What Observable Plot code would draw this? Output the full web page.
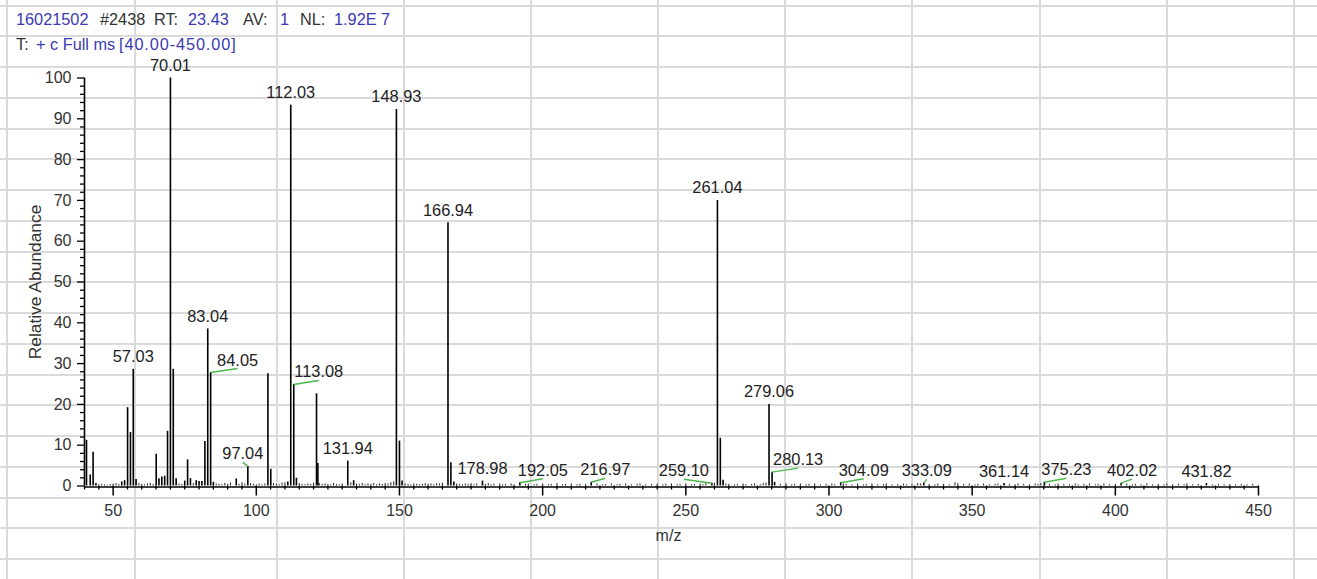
<!DOCTYPE html>
<html>
<head>
<meta charset="utf-8">
<script src="https://cdn.jsdelivr.net/npm/d3@7"></script>
<script src="https://cdn.jsdelivr.net/npm/@observablehq/plot@0.6"></script>
<style>
  html, body { margin: 0; padding: 0; background: #fff; }
  #page { position: relative; width: 1317px; height: 579px; overflow: hidden; background: #fff; }
  #grid { position: absolute; left: 0; top: 0; width: 1317px; height: 579px; }
  #grid div { position: absolute; background: #dadada; }
  #chart { position: absolute; left: 0; top: 0; }
  .h { position: absolute; font: 16.3px "Liberation Sans", Arial, sans-serif; color: #3a3ab4;
       white-space: pre; line-height: 25px; }
  .h.k { color: #333; }
  .h.w { letter-spacing: 0.9px; }
</style>
</head>
<body>
<div id="page">
  <div id="grid"></div>
  <div id="chart"></div>
  <span class="h" style="left:16px;top:7px">16021502</span>
  <span class="h k" style="left:100px;top:7px">#2438</span>
  <span class="h k" style="left:154px;top:7px">RT:</span>
  <span class="h" style="left:188px;top:7px">23.43</span>
  <span class="h k" style="left:243px;top:7px">AV:</span>
  <span class="h" style="left:280px;top:7px">1</span>
  <span class="h k" style="left:300px;top:7px">NL:</span>
  <span class="h" style="left:334px;top:7px">1.92E 7</span>
  <span class="h k" style="left:16px;top:32px">T:</span>
  <span class="h" style="left:36px;top:32px">+ c Full ms</span>
  <span class="h w" style="left:119px;top:32px">[40.00-450.00]</span>
</div>
<script>
// ---------------- data ----------------
// labelled peaks
const labelMz  = [70.01, 112.03, 148.93, 166.94, 261.04, 83.04, 57.03, 279.06, 84.05, 113.08, 131.94, 97.04,
                  178.98, 192.05, 216.97, 259.10, 280.13, 304.09, 333.09, 361.14, 375.23, 402.02, 431.82];
const labelInt = [100, 93.3, 92.3, 64.5, 70.0, 38.5, 28.6, 20.0, 27.8, 24.9, 6.1, 4.8,
                  1.2, 0.8, 0.9, 0.7, 3.4, 0.8, 0.7, 0.6, 0.9, 0.7, 0.6];
const labelText = ["70.01", "112.03", "148.93", "166.94", "261.04", "83.04", "57.03", "279.06", "84.05", "113.08", "131.94", "97.04",
                   "178.98", "192.05", "216.97", "259.10", "280.13", "304.09", "333.09", "361.14", "375.23", "402.02", "431.82"];
// other (unlabelled) peaks
const peakMz  = [40.7, 42.0, 43.0, 44.0, 53.0, 54.0, 55.05, 56.05, 58.0, 65.04, 66.0, 67.0, 68.0, 69.0, 71.0, 72.0,
                 75.0, 76.0, 77.0, 79.0, 80.0, 81.0, 82.05, 85.0, 93.0, 104.05, 105.05, 111.0, 114.0, 121.03, 121.5,
                 134.0, 150.0, 150.9, 167.95, 169.0, 262.05, 263.0, 281.0];
const peakInt = [11.2, 2.7, 8.3, 0.6, 1.0, 1.3, 19.2, 13.1, 1.6, 7.8, 1.8, 2.2, 2.4, 13.4, 28.6, 1.8,
                 1.2, 6.4, 1.8, 1.3, 1.1, 1.1, 10.9, 0.9, 1.7, 27.5, 4.1, 1.0, 1.9, 22.6, 5.5,
                 1.3, 11.0, 1.2, 5.7, 1.0, 11.7, 1.4, 0.9];
// baseline noise
const noiseMz = [45, 46, 47, 48, 49, 50, 51, 52, 59, 60, 61, 62, 63, 64, 73, 74, 78, 86, 87, 88, 89, 90, 91, 94, 95, 96,
  98, 99, 100, 101, 102, 103, 106, 107, 108, 109, 110, 115, 116, 117, 118, 119, 120, 122, 123, 124, 125, 126, 127, 128,
  129, 130, 133, 135, 136, 137, 138, 139, 140, 141, 142, 143, 144, 145, 146, 147, 148, 152, 153, 154, 155, 156, 157, 158,
  159, 160, 161, 162, 163, 164, 165, 170, 171, 172, 173, 174, 175, 176, 177, 180, 181, 182, 183, 185, 186, 187, 189, 190,
  194, 195, 197, 198, 200, 202, 203, 205, 207, 208, 210, 212, 213, 215, 219, 221, 222, 224, 226, 227, 229, 231, 233, 234,
  236, 238, 240, 242, 243, 245, 247, 248, 250, 252, 253, 255, 256, 257, 260, 264, 265, 267, 268, 270, 271, 273, 274, 276,
  277, 278, 283, 285, 287, 288, 290, 292, 293, 295, 297, 299, 301, 302, 305, 306, 308, 310, 312, 313, 315, 317, 319, 320,
  322, 324, 326, 327, 329, 331, 332, 335, 337, 338, 340, 342, 344, 345, 347, 349, 351, 352, 354, 356, 358, 359, 363, 365,
  366, 368, 370, 372, 373, 374, 377, 379, 380, 382, 384, 386, 387, 389, 391, 393, 394, 396, 398, 400, 404, 406, 407, 409,
  411, 413, 415, 417, 418, 420, 422, 424, 425, 427, 429, 434, 436, 438, 440, 442, 444, 446, 448];
const noiseInt = [0.3, 0.4, 0.3, 0.2, 0.4, 0.5, 0.6, 0.4, 0.6, 0.4, 0.3, 0.5, 0.6, 0.4, 0.5, 0.4, 0.6, 0.5, 0.4, 0.3, 0.6, 0.4, 0.7, 0.4, 0.8, 0.5,
  0.6, 0.4, 0.3, 0.5, 0.3, 0.5, 0.6, 0.4, 0.3, 0.7, 0.8, 0.6, 0.4, 0.3, 0.5, 0.4, 0.7, 0.6, 0.4, 0.5, 0.4, 0.3, 0.6, 0.4,
  0.3, 0.5, 0.8, 0.5, 0.4, 0.6, 0.3, 0.5, 0.4, 0.6, 0.3, 0.5, 0.4, 0.6, 0.5, 0.8, 1.0, 0.5, 0.4, 0.3, 0.5, 0.4, 0.3, 0.4,
  0.6, 0.4, 0.5, 0.3, 0.6, 0.5, 0.7, 0.5, 0.4, 0.3, 0.5, 0.4, 0.6, 0.3, 0.5, 0.4, 0.6, 0.3, 0.4, 0.5, 0.3, 0.4, 0.5, 0.3,
  0.4, 0.5, 0.3, 0.4, 0.5, 0.3, 0.4, 0.6, 0.3, 0.4, 0.5, 0.3, 0.4, 0.4, 0.5, 0.3, 0.4, 0.5, 0.3, 0.4, 0.5, 0.3, 0.4, 0.5,
  0.3, 0.4, 0.5, 0.3, 0.4, 0.5, 0.3, 0.4, 0.5, 0.3, 0.4, 0.5, 0.3, 0.6, 0.7, 0.5, 0.4, 0.3, 0.4, 0.5, 0.3, 0.4, 0.5, 0.3,
  0.6, 0.7, 0.4, 0.5, 0.3, 0.4, 0.5, 0.3, 0.4, 0.5, 0.3, 0.4, 0.5, 0.3, 0.5, 0.4, 0.3, 0.5, 0.3, 0.4, 0.5, 0.3, 0.4, 0.5,
  0.3, 0.4, 0.5, 0.3, 0.4, 0.6, 0.5, 0.4, 0.3, 0.5, 0.4, 0.3, 0.8, 0.6, 0.4, 0.5, 0.3, 0.4, 0.5, 0.3, 0.4, 0.5, 0.4, 0.3,
  0.5, 0.4, 0.3, 0.5, 0.4, 0.6, 0.4, 0.3, 0.5, 0.4, 0.3, 0.5, 0.3, 0.4, 0.5, 0.3, 0.4, 0.5, 0.3, 0.4, 0.5, 0.3, 0.4, 0.3,
  0.5, 0.3, 0.4, 0.3, 0.5, 0.3, 0.4, 0.3, 0.5, 0.3, 0.4, 0.3, 0.4, 0.3, 0.4, 0.3, 0.4, 0.3, 0.4];
// axis ticks
const xMajorTicks = [50, 100, 150, 200, 250, 300, 350, 400, 450];
const yMajorTicks = [0, 10, 20, 30, 40, 50, 60, 70, 80, 90, 100];

// ---------------- layout / style ----------------
const W = 1317, H = 579;
const mL = 84, mR = 59, mT = 77.5, mB = 93.5;
const xDom = [40, 450], yDom = [0, 100];
const pxPerX = (W - mL - mR) / (xDom[1] - xDom[0]);
const pxPerY = (H - mT - mB) / (yDom[1] - yDom[0]);
// horizontal pixel shift of labels that are moved aside (green leader lines)
const labelShiftPx = {"84.05": 27, "113.08": 25, "97.04": -5, "192.05": 23, "216.97": 14, "259.10": -28,
                      "280.13": 26, "304.09": 23, "333.09": 3, "375.23": 22, "402.02": 11};
const FONT = '"Liberation Sans", Arial, sans-serif';

// background spreadsheet grid (page decoration)
const colEdges = [7, 135, 277, 404, 531, 658, 785, 912, 1040, 1167, 1294];
const grid = document.getElementById("grid");
colEdges.forEach(x => {
  const d = document.createElement("div");
  d.style.cssText = `left:${x - 1}px;top:0;width:2px;height:${H}px`;
  grid.appendChild(d);
});
for (let k = 0; k < 19; k++) {
  const y = 5.5 + 30.75 * k;
  const d = document.createElement("div");
  d.style.cssText = `left:0;top:${(y - 1).toFixed(2)}px;width:${W}px;height:2px`;
  grid.appendChild(d);
}

// ---------------- build tables ----------------
const labels = labelMz.map((mz, i) => ({mz, int: labelInt[i], label: labelText[i]}));
const peaks = labels.concat(peakMz.map((mz, i) => ({mz, int: peakInt[i]})));
const noise = noiseMz.map((mz, i) => ({mz, int: noiseInt[i]}));
const leaders = labels.filter(d => labelShiftPx[d.label] !== undefined);
const shiftX = d => d.mz + (labelShiftPx[d.label] || 0) / pxPerX;

const xMinor = d3.range(40, 451, 5).filter(v => v % 50 !== 0);
const yMinor = d3.range(0, 101, 2).filter(v => v % 10 !== 0);

const chart = Plot.plot({
  width: W, height: H,
  marginLeft: mL, marginRight: mR, marginTop: mT, marginBottom: mB,
  x: {domain: xDom},
  y: {domain: yDom},
  style: {background: "transparent", fontFamily: FONT, fontSize: "16px", color: "#000", overflow: "visible"},
  marks: [
    Plot.ruleX(noise, {x: "mz", y1: 0, y2: "int", stroke: "#222", strokeWidth: 1}),
    Plot.ruleX(peaks, {x: "mz", y1: 0, y2: "int", stroke: "#000", strokeWidth: 1.6}),
    Plot.axisY({ticks: yMinor, tickSize: 4, tickFormat: () => "", label: null, strokeWidth: 1.3}),
    Plot.axisY({ticks: yMajorTicks, tickSize: 7, tickPadding: 6, label: null, strokeWidth: 1.3, fill: "#333", fontSize: 16}),
    Plot.axisX({ticks: xMinor, tickSize: 4, tickFormat: () => "", label: null, strokeWidth: 1.3}),
    Plot.axisX({ticks: xMajorTicks, tickSize: 10, tickPadding: 9, label: null, strokeWidth: 1.5, fill: "#333", fontSize: 16}),
    Plot.ruleX([40], {y1: 0, y2: 100, stroke: "#000", strokeWidth: 1.6}),
    Plot.ruleY([0], {stroke: "#000", strokeWidth: 1.6, dy: 1}),
    Plot.link(leaders, {x1: "mz", y1: "int", x2: shiftX, y2: d => d.int + 4 / pxPerY,
                        stroke: "#4cb84c", strokeWidth: 1.5}),
    Plot.text(labels, {x: shiftX, y: "int", text: "label", lineAnchor: "bottom", dy: -7,
                       fill: "#222", fontSize: 16.4}),
    Plot.text(["Relative Abundance"], {text: d => d, frameAnchor: "left", dx: -49, rotate: -90,
                                       textAnchor: "middle", lineAnchor: "middle", fill: "#333", fontSize: 17.4}),
    Plot.text(["m/z"], {text: d => d, frameAnchor: "bottom", dx: -3, dy: 50, lineAnchor: "middle",
                        fill: "#333", fontSize: 16})
  ]
});
document.getElementById("chart").appendChild(chart);
</script>
</body>
</html>
